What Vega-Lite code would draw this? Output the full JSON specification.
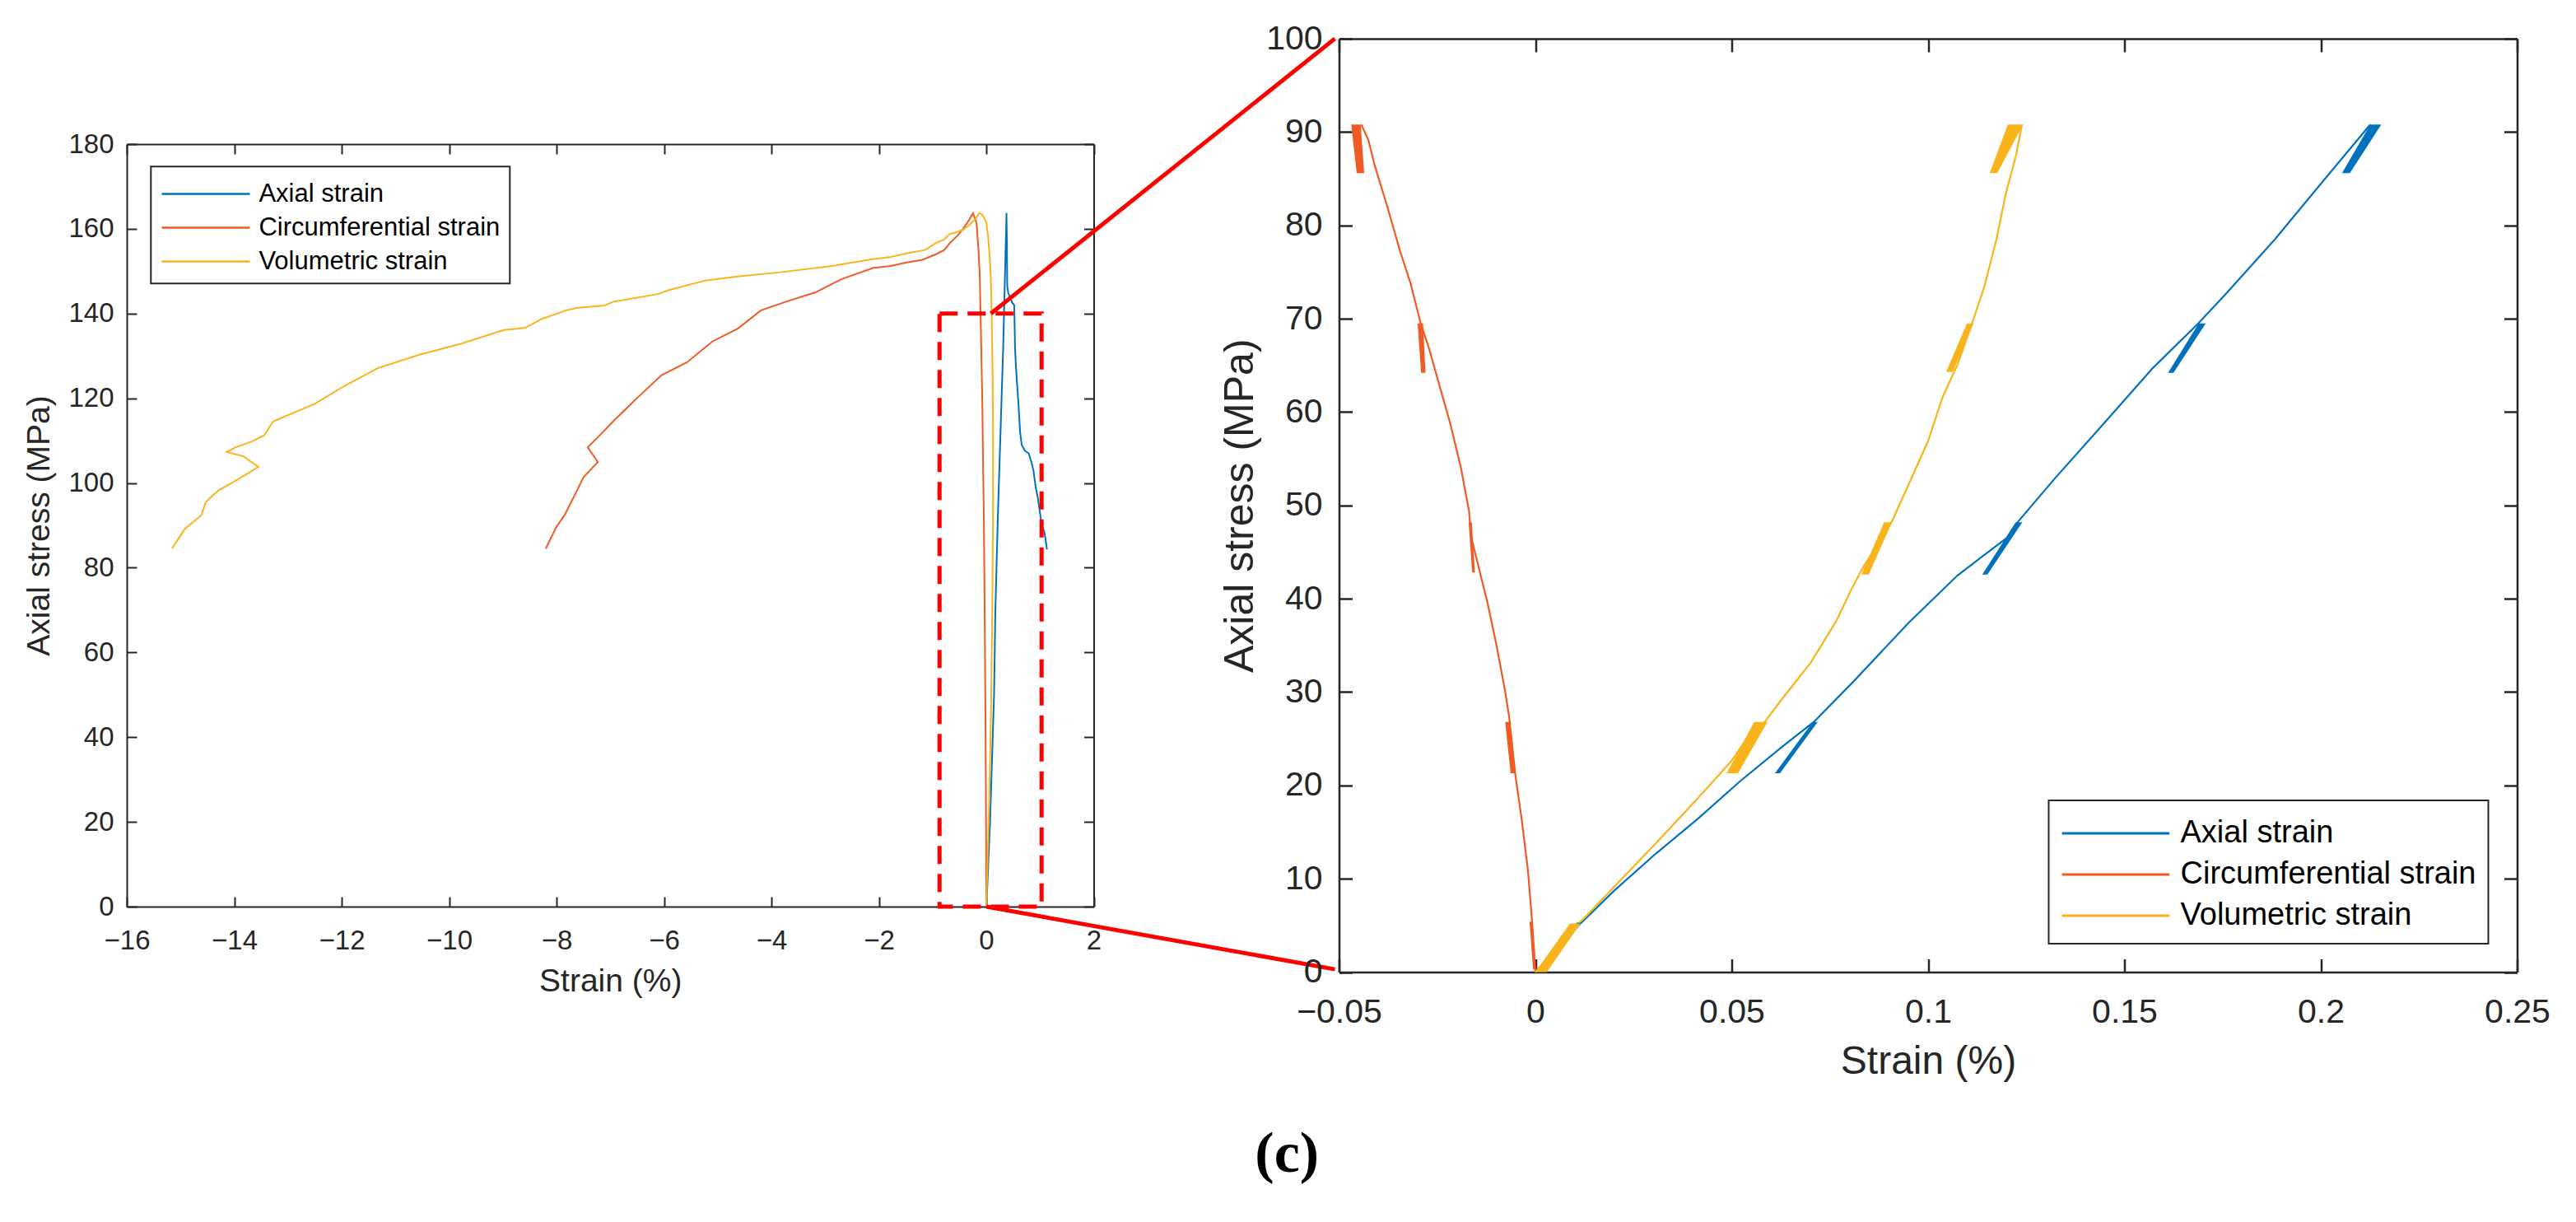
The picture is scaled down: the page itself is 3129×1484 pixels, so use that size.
{
"$schema": "https://vega.github.io/schema/vega-lite/v6.json",
"padding": {"left": 28, "top": 26, "right": 5, "bottom": 5},
"background": "white",
"config": {
  "font": "Liberation Sans",
  "view": {"stroke": null},
  "axis": {"domainColor": "#262626", "tickColor": "#262626", "labelColor": "#262626", "titleColor": "#262626", "grid": false, "labelFont": "Liberation Sans", "titleFont": "Liberation Sans", "titleFontWeight": "normal", "labelFlush": false, "labelOverlap": false, "labelBound": false},
  "legend": {"strokeWidth": 2, "strokeColor": "#262626", "fillColor": "white", "labelColor": "black", "labelFont": "Liberation Sans", "cornerRadius": 0, "labelLimit": 0}
},
"datasets": {
  "left": [
    {"s":"Axial strain","i":0,"x":0,"y":0},{"s":"Axial strain","i":1,"x":0.02,"y":5},{"s":"Axial strain","i":2,"x":0.07,"y":20},{"s":"Axial strain","i":3,"x":0.12,"y":40},{"s":"Axial strain","i":4,"x":0.145,"y":50},{"s":"Axial strain","i":5,"x":0.1684,"y":69.4},{"s":"Axial strain","i":6,"x":0.2126,"y":90.7},{"s":"Axial strain","i":7,"x":0.25,"y":106},{"s":"Axial strain","i":8,"x":0.285,"y":120},{"s":"Axial strain","i":9,"x":0.315,"y":132},{"s":"Axial strain","i":10,"x":0.34,"y":145},{"s":"Axial strain","i":11,"x":0.36,"y":155},{"s":"Axial strain","i":12,"x":0.37,"y":160},{"s":"Axial strain","i":13,"x":0.376,"y":163.7},{"s":"Axial strain","i":14,"x":0.383,"y":157},{"s":"Axial strain","i":15,"x":0.39,"y":146.5},{"s":"Axial strain","i":16,"x":0.41,"y":144.8},{"s":"Axial strain","i":17,"x":0.44,"y":143.9},{"s":"Axial strain","i":18,"x":0.48,"y":142.6},{"s":"Axial strain","i":19,"x":0.52,"y":142},{"s":"Axial strain","i":20,"x":0.53,"y":136},{"s":"Axial strain","i":21,"x":0.535,"y":132},{"s":"Axial strain","i":22,"x":0.55,"y":128},{"s":"Axial strain","i":23,"x":0.57,"y":124},{"s":"Axial strain","i":24,"x":0.6,"y":118.6},{"s":"Axial strain","i":25,"x":0.63,"y":112},{"s":"Axial strain","i":26,"x":0.66,"y":109},{"s":"Axial strain","i":27,"x":0.72,"y":107.6},{"s":"Axial strain","i":28,"x":0.79,"y":107},{"s":"Axial strain","i":29,"x":0.85,"y":104.5},{"s":"Axial strain","i":30,"x":0.88,"y":102.8},{"s":"Axial strain","i":31,"x":0.92,"y":99},{"s":"Axial strain","i":32,"x":0.96,"y":96.5},{"s":"Axial strain","i":33,"x":1.0,"y":93},{"s":"Axial strain","i":34,"x":1.03,"y":90},{"s":"Axial strain","i":35,"x":1.08,"y":88.5},{"s":"Axial strain","i":36,"x":1.1,"y":87},{"s":"Axial strain","i":37,"x":1.13,"y":84.3},
    {"s":"Circumferential strain","i":0,"x":0,"y":0},{"s":"Circumferential strain","i":1,"x":-0.0019,"y":10.9},{"s":"Circumferential strain","i":2,"x":-0.0067,"y":27.4},{"s":"Circumferential strain","i":3,"x":-0.0164,"y":46.7},{"s":"Circumferential strain","i":4,"x":-0.0302,"y":70.2},{"s":"Circumferential strain","i":5,"x":-0.0443,"y":90.8},{"s":"Circumferential strain","i":6,"x":-0.06,"y":105},{"s":"Circumferential strain","i":7,"x":-0.075,"y":120},{"s":"Circumferential strain","i":8,"x":-0.094,"y":132},{"s":"Circumferential strain","i":9,"x":-0.12,"y":148.6},{"s":"Circumferential strain","i":10,"x":-0.145,"y":155},{"s":"Circumferential strain","i":11,"x":-0.181,"y":161.4},{"s":"Circumferential strain","i":12,"x":-0.247,"y":163.7},{"s":"Circumferential strain","i":13,"x":-0.324,"y":162},{"s":"Circumferential strain","i":14,"x":-0.426,"y":160.1},{"s":"Circumferential strain","i":15,"x":-0.528,"y":158.5},{"s":"Circumferential strain","i":16,"x":-0.68,"y":156.6},{"s":"Circumferential strain","i":17,"x":-0.783,"y":155},{"s":"Circumferential strain","i":18,"x":-0.936,"y":154},{"s":"Circumferential strain","i":19,"x":-1.19,"y":152.7},{"s":"Circumferential strain","i":20,"x":-1.5,"y":152},{"s":"Circumferential strain","i":21,"x":-1.8,"y":151.2},{"s":"Circumferential strain","i":22,"x":-2.1,"y":150.8},{"s":"Circumferential strain","i":23,"x":-2.7,"y":148.1},{"s":"Circumferential strain","i":24,"x":-3.18,"y":145},{"s":"Circumferential strain","i":25,"x":-3.73,"y":142.8},{"s":"Circumferential strain","i":26,"x":-4.2,"y":140.7},{"s":"Circumferential strain","i":27,"x":-4.62,"y":136.5},{"s":"Circumferential strain","i":28,"x":-5.1,"y":133.4},{"s":"Circumferential strain","i":29,"x":-5.57,"y":128.5},{"s":"Circumferential strain","i":30,"x":-6.05,"y":125.4},{"s":"Circumferential strain","i":31,"x":-6.48,"y":120.3},{"s":"Circumferential strain","i":32,"x":-6.95,"y":114.5},{"s":"Circumferential strain","i":33,"x":-7.19,"y":111.3},{"s":"Circumferential strain","i":34,"x":-7.42,"y":108.4},{"s":"Circumferential strain","i":35,"x":-7.23,"y":105},{"s":"Circumferential strain","i":36,"x":-7.5,"y":101.3},{"s":"Circumferential strain","i":37,"x":-7.62,"y":98.2},{"s":"Circumferential strain","i":38,"x":-7.85,"y":92.4},{"s":"Circumferential strain","i":39,"x":-8.0,"y":89.7},{"s":"Circumferential strain","i":40,"x":-8.2,"y":84.5},
    {"s":"Volumetric strain","i":0,"x":0,"y":0},{"s":"Volumetric strain","i":1,"x":0.0109,"y":5.2},{"s":"Volumetric strain","i":2,"x":0.0307,"y":13.8},{"s":"Volumetric strain","i":3,"x":0.0584,"y":26.8},{"s":"Volumetric strain","i":4,"x":0.0807,"y":41.2},{"s":"Volumetric strain","i":5,"x":0.0907,"y":48.2},{"s":"Volumetric strain","i":6,"x":0.1112,"y":69.5},{"s":"Volumetric strain","i":7,"x":0.1239,"y":90.7},{"s":"Volumetric strain","i":8,"x":0.126,"y":100},{"s":"Volumetric strain","i":9,"x":0.124,"y":115},{"s":"Volumetric strain","i":10,"x":0.118,"y":125},{"s":"Volumetric strain","i":11,"x":0.11,"y":132},{"s":"Volumetric strain","i":12,"x":0.1,"y":140},{"s":"Volumetric strain","i":13,"x":0.085,"y":148.5},{"s":"Volumetric strain","i":14,"x":0.06,"y":154},{"s":"Volumetric strain","i":15,"x":0.034,"y":158.2},{"s":"Volumetric strain","i":16,"x":0.0,"y":161.5},{"s":"Volumetric strain","i":17,"x":-0.043,"y":162.7},{"s":"Volumetric strain","i":18,"x":-0.09,"y":163.5},{"s":"Volumetric strain","i":19,"x":-0.135,"y":163.7},{"s":"Volumetric strain","i":20,"x":-0.196,"y":162.4},{"s":"Volumetric strain","i":21,"x":-0.324,"y":160.8},{"s":"Volumetric strain","i":22,"x":-0.43,"y":159.8},{"s":"Volumetric strain","i":23,"x":-0.58,"y":159.1},{"s":"Volumetric strain","i":24,"x":-0.68,"y":158.8},{"s":"Volumetric strain","i":25,"x":-0.78,"y":157.5},{"s":"Volumetric strain","i":26,"x":-0.94,"y":156.6},{"s":"Volumetric strain","i":27,"x":-1.14,"y":155},{"s":"Volumetric strain","i":28,"x":-1.45,"y":154.3},{"s":"Volumetric strain","i":29,"x":-1.8,"y":153.3},{"s":"Volumetric strain","i":30,"x":-2.09,"y":152.9},{"s":"Volumetric strain","i":31,"x":-2.84,"y":151.3},{"s":"Volumetric strain","i":32,"x":-3.86,"y":149.7},{"s":"Volumetric strain","i":33,"x":-4.6,"y":148.8},{"s":"Volumetric strain","i":34,"x":-5.23,"y":147.8},{"s":"Volumetric strain","i":35,"x":-5.92,"y":145.5},{"s":"Volumetric strain","i":36,"x":-6.11,"y":144.6},{"s":"Volumetric strain","i":37,"x":-6.94,"y":142.8},{"s":"Volumetric strain","i":38,"x":-7.11,"y":141.9},{"s":"Volumetric strain","i":39,"x":-7.63,"y":141.3},{"s":"Volumetric strain","i":40,"x":-7.81,"y":140.8},{"s":"Volumetric strain","i":41,"x":-8.28,"y":138.7},{"s":"Volumetric strain","i":42,"x":-8.59,"y":136.6},{"s":"Volumetric strain","i":43,"x":-8.98,"y":136.1},{"s":"Volumetric strain","i":44,"x":-9.77,"y":132.9},{"s":"Volumetric strain","i":45,"x":-10.55,"y":130.3},{"s":"Volumetric strain","i":46,"x":-11.33,"y":127.1},{"s":"Volumetric strain","i":47,"x":-11.95,"y":122.9},{"s":"Volumetric strain","i":48,"x":-12.5,"y":118.7},{"s":"Volumetric strain","i":49,"x":-12.89,"y":116.6},{"s":"Volumetric strain","i":50,"x":-13.28,"y":114.5},{"s":"Volumetric strain","i":51,"x":-13.44,"y":111.3},{"s":"Volumetric strain","i":52,"x":-13.67,"y":109.8},{"s":"Volumetric strain","i":53,"x":-13.98,"y":108.4},{"s":"Volumetric strain","i":54,"x":-14.14,"y":107.3},{"s":"Volumetric strain","i":55,"x":-13.83,"y":106.3},{"s":"Volumetric strain","i":56,"x":-13.55,"y":103.8},{"s":"Volumetric strain","i":57,"x":-13.91,"y":101},{"s":"Volumetric strain","i":58,"x":-14.3,"y":98.2},{"s":"Volumetric strain","i":59,"x":-14.53,"y":95.5},{"s":"Volumetric strain","i":60,"x":-14.61,"y":92.4},{"s":"Volumetric strain","i":61,"x":-14.92,"y":89.2},{"s":"Volumetric strain","i":62,"x":-15.0,"y":87.6},{"s":"Volumetric strain","i":63,"x":-15.16,"y":84.5}
  ],
  "right": [
    {"s":"Axial strain","i":0,"x":0,"y":0},{"s":"Axial strain","i":1,"x":0.0093,"y":4.3},{"s":"Axial strain","i":2,"x":0.02,"y":8.7},{"s":"Axial strain","i":3,"x":0.0307,"y":12.7},{"s":"Axial strain","i":4,"x":0.0413,"y":16.4},{"s":"Axial strain","i":5,"x":0.052,"y":20.4},{"s":"Axial strain","i":6,"x":0.0627,"y":24.1},{"s":"Axial strain","i":7,"x":0.0709,"y":26.8},{"s":"Axial strain","i":8,"x":0.0807,"y":31.0},{"s":"Axial strain","i":9,"x":0.095,"y":37.4},{"s":"Axial strain","i":10,"x":0.1075,"y":42.5},{"s":"Axial strain","i":11,"x":0.1137,"y":44.5},{"s":"Axial strain","i":12,"x":0.12,"y":46.5},{"s":"Axial strain","i":13,"x":0.1228,"y":48.2},{"s":"Axial strain","i":14,"x":0.1323,"y":52.9},{"s":"Axial strain","i":15,"x":0.1448,"y":58.8},{"s":"Axial strain","i":16,"x":0.1572,"y":64.7},{"s":"Axial strain","i":17,"x":0.1688,"y":69.5},{"s":"Axial strain","i":18,"x":0.1759,"y":72.7},{"s":"Axial strain","i":19,"x":0.1883,"y":78.5},{"s":"Axial strain","i":20,"x":0.2007,"y":84.8},{"s":"Axial strain","i":21,"x":0.2126,"y":90.8},
    {"s":"Circumferential strain","i":0,"x":0,"y":0},{"s":"Circumferential strain","i":1,"x":-0.00085,"y":5.4},{"s":"Circumferential strain","i":2,"x":-0.0019,"y":10.9},{"s":"Circumferential strain","i":3,"x":-0.0035,"y":16.4},{"s":"Circumferential strain","i":4,"x":-0.0051,"y":21.1},{"s":"Circumferential strain","i":5,"x":-0.0067,"y":27.4},{"s":"Circumferential strain","i":6,"x":-0.0078,"y":30.3},{"s":"Circumferential strain","i":7,"x":-0.0099,"y":35.0},{"s":"Circumferential strain","i":8,"x":-0.0121,"y":39.4},{"s":"Circumferential strain","i":9,"x":-0.0164,"y":46.7},{"s":"Circumferential strain","i":10,"x":-0.0169,"y":49.4},{"s":"Circumferential strain","i":11,"x":-0.019,"y":54.1},{"s":"Circumferential strain","i":12,"x":-0.0217,"y":58.8},{"s":"Circumferential strain","i":13,"x":-0.0244,"y":62.8},{"s":"Circumferential strain","i":14,"x":-0.027,"y":66.7},{"s":"Circumferential strain","i":15,"x":-0.0292,"y":69.5},{"s":"Circumferential strain","i":16,"x":-0.0318,"y":73.8},{"s":"Circumferential strain","i":17,"x":-0.0345,"y":77.3},{"s":"Circumferential strain","i":18,"x":-0.0377,"y":82.0},{"s":"Circumferential strain","i":19,"x":-0.0409,"y":86.4},{"s":"Circumferential strain","i":20,"x":-0.0425,"y":89.1},{"s":"Circumferential strain","i":21,"x":-0.0443,"y":90.8},
    {"s":"Volumetric strain","i":0,"x":0,"y":0},{"s":"Volumetric strain","i":1,"x":0.0109,"y":5.2},{"s":"Volumetric strain","i":2,"x":0.0125,"y":5.8},{"s":"Volumetric strain","i":3,"x":0.02,"y":9.1},{"s":"Volumetric strain","i":4,"x":0.0307,"y":13.8},{"s":"Volumetric strain","i":5,"x":0.0413,"y":18.6},{"s":"Volumetric strain","i":6,"x":0.0499,"y":22.6},{"s":"Volumetric strain","i":7,"x":0.0552,"y":25.9},{"s":"Volumetric strain","i":8,"x":0.0584,"y":26.8},{"s":"Volumetric strain","i":9,"x":0.0627,"y":29.2},{"s":"Volumetric strain","i":10,"x":0.0702,"y":33.2},{"s":"Volumetric strain","i":11,"x":0.0766,"y":37.6},{"s":"Volumetric strain","i":12,"x":0.0807,"y":41.2},{"s":"Volumetric strain","i":13,"x":0.0835,"y":43.4},{"s":"Volumetric strain","i":14,"x":0.0907,"y":48.2},{"s":"Volumetric strain","i":15,"x":0.095,"y":52.2},{"s":"Volumetric strain","i":16,"x":0.1,"y":56.9},{"s":"Volumetric strain","i":17,"x":0.1037,"y":61.6},{"s":"Volumetric strain","i":18,"x":0.1075,"y":65.1},{"s":"Volumetric strain","i":19,"x":0.1112,"y":69.5},{"s":"Volumetric strain","i":20,"x":0.1143,"y":73.4},{"s":"Volumetric strain","i":21,"x":0.1174,"y":78.5},{"s":"Volumetric strain","i":22,"x":0.1199,"y":83.6},{"s":"Volumetric strain","i":23,"x":0.1224,"y":87.5},{"s":"Volumetric strain","i":24,"x":0.1239,"y":90.8}
  ],
  "loops": [
    {"s":"Axial strain","k":"b1","y":5.3,"xa":0.0105,"xb":0.0118},{"s":"Axial strain","k":"b1","y":0.3,"xa":0.0008,"xb":0.002},
    {"s":"Axial strain","k":"b2","y":26.8,"xa":0.0706,"xb":0.0719},{"s":"Axial strain","k":"b2","y":21.3,"xa":0.061,"xb":0.0623},
    {"s":"Axial strain","k":"b3","y":48.2,"xa":0.1223,"xb":0.124},{"s":"Axial strain","k":"b3","y":42.6,"xa":0.1138,"xb":0.1151},
    {"s":"Axial strain","k":"b4","y":69.5,"xa":0.1689,"xb":0.1707},{"s":"Axial strain","k":"b4","y":64.2,"xa":0.1611,"xb":0.1625},
    {"s":"Axial strain","k":"b5","y":90.8,"xa":0.2126,"xb":0.2154},{"s":"Axial strain","k":"b5","y":85.6,"xa":0.2054,"xb":0.2074},
    {"s":"Circumferential strain","k":"r1","y":5.4,"xa":-0.0015,"xb":-0.0007},{"s":"Circumferential strain","k":"r1","y":0.3,"xa":-0.0006,"xb":0.0001},
    {"s":"Circumferential strain","k":"r2","y":26.8,"xa":-0.0077,"xb":-0.0065},{"s":"Circumferential strain","k":"r2","y":21.3,"xa":-0.0063,"xb":-0.0052},
    {"s":"Circumferential strain","k":"r3","y":48.2,"xa":-0.017,"xb":-0.0162},{"s":"Circumferential strain","k":"r3","y":42.8,"xa":-0.0161,"xb":-0.0154},
    {"s":"Circumferential strain","k":"r4","y":69.5,"xa":-0.03,"xb":-0.0286},{"s":"Circumferential strain","k":"r4","y":64.2,"xa":-0.0291,"xb":-0.028},
    {"s":"Circumferential strain","k":"r5","y":90.8,"xa":-0.0469,"xb":-0.0445},{"s":"Circumferential strain","k":"r5","y":85.6,"xa":-0.0455,"xb":-0.0436},
    {"s":"Volumetric strain","k":"y1","y":5.2,"xa":0.0088,"xb":0.0115},{"s":"Volumetric strain","k":"y1","y":0,"xa":0.0,"xb":0.0029},
    {"s":"Volumetric strain","k":"y2","y":26.8,"xa":0.0557,"xb":0.0591},{"s":"Volumetric strain","k":"y2","y":21.3,"xa":0.0487,"xb":0.0516},
    {"s":"Volumetric strain","k":"y3","y":48.2,"xa":0.0888,"xb":0.0908},{"s":"Volumetric strain","k":"y3","y":42.6,"xa":0.083,"xb":0.0849},
    {"s":"Volumetric strain","k":"y4","y":69.5,"xa":0.1099,"xb":0.1116},{"s":"Volumetric strain","k":"y4","y":64.3,"xa":0.1046,"xb":0.1063},
    {"s":"Volumetric strain","k":"y5","y":90.8,"xa":0.1203,"xb":0.1242},{"s":"Volumetric strain","k":"y5","y":85.6,"xa":0.1157,"xb":0.1176}
  ]
},
"title": {"text": "(c)", "orient": "bottom", "anchor": "middle", "frame": "bounds", "offset": 110, "baseline": "alphabetic", "font": "Liberation Serif", "fontSize": 70, "fontWeight": "bold", "color": "black"},
"spacing": 297.5,
"bounds": "flush",
"resolve": {"scale": {"x": "independent", "y": "independent", "color": "independent", "fill": "independent"}, "legend": {"color": "independent"}},
"hconcat": [
  {
    "width": 1174.5,
    "height": 1054,
    "resolve": {"axis": {"x": "independent", "y": "independent"}},
    "layer": [
      {
        "data": {"name": "left"},
        "mark": {"type": "line", "strokeWidth": 2},
        "encoding": {
          "x": {"field": "x", "type": "quantitative", "scale": {"domain": [-16, 2], "nice": false, "zero": false},
                "axis": {"orient": "bottom", "values": [-16,-14,-12,-10,-8,-6,-4,-2,0,2], "tickSize": -12, "tickWidth": 2, "domainWidth": 2, "labelPadding": 37, "labelFontSize": 33, "title": "Strain (%)", "titleFontSize": 39, "titlePadding": 13.5}},
          "y": {"field": "y", "type": "quantitative", "scale": {"domain": [0, 180], "range": [1054, 128], "nice": false, "zero": false},
                "axis": {"orient": "left", "values": [0,20,40,60,80,100,120,140,160,180], "tickSize": -12, "tickWidth": 2, "domainWidth": 2, "labelPadding": 28, "labelFontSize": 33, "title": "Axial stress (MPa)", "titleFontSize": 39, "titlePadding": 15}},
          "color": {"field": "s", "type": "nominal",
                    "scale": {"domain": ["Axial strain", "Circumferential strain", "Volumetric strain"], "range": ["#0072BD", "#F05A24", "#F8B41A"]},
                    "legend": {"orient": "none", "legendX": 29.3, "legendY": 155.3, "title": null, "symbolType": "M-2.675,0H2.675", "symbolSize": 1600, "symbolOffset": 33.5, "symbolStrokeWidth": 2.5, "labelFontSize": 31, "labelOffset": 42.9, "rowPadding": 4, "padding": 11.7}},
          "order": {"field": "i", "type": "quantitative"}
        }
      },
      {
        "data": {"values": [{"x1": -0.87, "x2": 1.03, "y1": 0, "y2": 140}]},
        "mark": {"type": "rect", "fill": "white", "fillOpacity": 0, "stroke": "#FF0000", "strokeWidth": 5, "strokeDash": [22, 12]},
        "encoding": {
          "x": {"field": "x1", "type": "quantitative", "scale": {"domain": [-16, 2], "nice": false, "zero": false},
                "axis": {"orient": "top", "offset": -128, "values": [-16,-14,-12,-10,-8,-6,-4,-2,0,2], "labels": false, "title": null, "tickSize": -12, "tickWidth": 2, "domainWidth": 2}},
          "x2": {"field": "x2"},
          "y": {"field": "y1", "type": "quantitative", "scale": {"domain": [0, 180], "range": [1054, 128], "nice": false, "zero": false},
                "axis": {"orient": "right", "values": [0,20,40,60,80,100,120,140,160,180], "labels": false, "title": null, "tickSize": -12, "tickWidth": 2, "domainWidth": 2}},
          "y2": {"field": "y2"}
        }
      },
      {
        "data": {"values": [{"x1": 0.085, "y1": 140, "x2": 6.49, "y2": 204.9}, {"x1": 0, "y1": 0, "x2": 6.49, "y2": -14.8}]},
        "mark": {"type": "rule", "stroke": "#FF0000", "strokeWidth": 5},
        "encoding": {
          "x": {"field": "x1", "type": "quantitative", "axis": null},
          "x2": {"field": "x2"},
          "y": {"field": "y1", "type": "quantitative", "axis": null},
          "y2": {"field": "y2"}
        }
      }
    ]
  },
  {
    "width": 1431,
    "height": 1133.5,
    "resolve": {"axis": {"x": "independent", "y": "independent"}},
    "layer": [
      {
        "data": {"name": "right"},
        "mark": {"type": "line", "strokeWidth": 2.2},
        "encoding": {
          "x": {"field": "x", "type": "quantitative", "scale": {"domain": [-0.05, 0.25], "nice": false, "zero": false},
                "axis": {"orient": "bottom", "values": [-0.05, 0, 0.05, 0.1, 0.15, 0.2, 0.25], "format": "~g", "tickSize": -16, "tickWidth": 2.5, "domainWidth": 2.5, "labelPadding": 44.7, "labelFontSize": 41, "title": "Strain (%)", "titleFontSize": 48, "titlePadding": 16}},
          "y": {"field": "y", "type": "quantitative", "scale": {"domain": [0, 100], "nice": false, "zero": false},
                "axis": {"orient": "left", "values": [0,10,20,30,40,50,60,70,80,90,100], "tickSize": -16, "tickWidth": 2.5, "domainWidth": 2.5, "labelPadding": 36.4, "labelFontSize": 41, "title": "Axial stress (MPa)", "titleFontSize": 50, "titlePadding": 6}},
          "color": {"field": "s", "type": "nominal",
                    "scale": {"domain": ["Axial strain", "Circumferential strain", "Volumetric strain"], "range": ["#0072BD", "#F05A24", "#F8B41A"]},
                    "legend": {"orient": "bottom-right", "offset": 35, "title": null, "symbolType": "M-2.72,0H2.72", "symbolSize": 2304, "symbolOffset": 41.3, "symbolStrokeWidth": 3, "labelFontSize": 38, "labelOffset": 53.1, "rowPadding": 5, "padding": 14.6}},
          "order": {"field": "i", "type": "quantitative"}
        }
      },
      {
        "data": {"name": "loops"},
        "mark": {"type": "area", "orient": "horizontal"},
        "encoding": {
          "y": {"field": "y", "type": "quantitative", "scale": {"domain": [0, 100], "nice": false, "zero": false},
                "axis": {"orient": "right", "values": [0,10,20,30,40,50,60,70,80,90,100], "labels": false, "title": null, "tickSize": -16, "tickWidth": 2.5, "domainWidth": 2.5}},
          "x": {"field": "xa", "type": "quantitative", "scale": {"domain": [-0.05, 0.25], "nice": false, "zero": false},
                "axis": {"orient": "top", "values": [-0.05, 0, 0.05, 0.1, 0.15, 0.2, 0.25], "labels": false, "title": null, "tickSize": -16, "tickWidth": 2.5, "domainWidth": 2.5}},
          "x2": {"field": "xb"},
          "fill": {"field": "s", "type": "nominal", "legend": null,
                   "scale": {"domain": ["Axial strain", "Circumferential strain", "Volumetric strain"], "range": ["#0072BD", "#F05A24", "#F8B41A"]}},
          "detail": {"field": "k", "type": "nominal"}
        }
      }
    ]
  }
]
}
